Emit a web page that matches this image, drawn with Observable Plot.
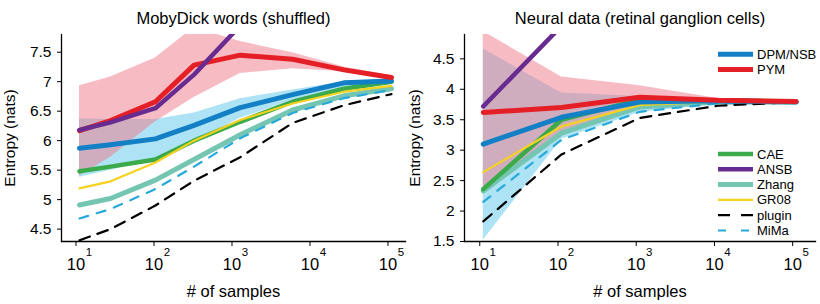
<!DOCTYPE html>
<html>
<head>
<meta charset="utf-8">
<script src="https://cdn.jsdelivr.net/npm/d3@7"></script>
<script src="https://cdn.jsdelivr.net/npm/@observablehq/plot@0.6"></script>
<style>
  body { margin: 0; background: #fff; }
  #wrap { position: relative; width: 820px; height: 304px; display: flex; font-family: "Liberation Sans", Arial, sans-serif; }
  #wrap > svg { display: block; }
  #legend { position: absolute; left: 0; top: 0; }
</style>
</head>
<body>
<div id="wrap"></div>
<script>
// ---- MobyDick words (shuffled) ----
const mobyN       = [10, 25, 94, 294, 1150, 5400, 24600, 100000];
const mobyDPM     = [5.87, 5.93, 6.03, 6.26, 6.56, 6.78, 6.98, 7.01];
const mobyDPMHi   = [6.37, 6.36, 6.36, 6.47, 6.71, 6.86, 7.00, 7.05];
const mobyDPMLo   = [5.38, 5.50, 5.68, 5.98, 6.38, 6.68, 6.90, 6.97];
const mobyPYM     = [6.17, 6.34, 6.66, 7.28, 7.45, 7.38, 7.20, 7.07];
const mobyPYMHi   = [6.93, 7.08, 7.40, 7.92, 7.68, 7.49, 7.25, 7.10];
const mobyPYMLo   = [5.40, 5.72, 6.32, 6.73, 7.14, 7.22, 7.17, 7.05];
const mobyCAE     = [5.48, 5.56, 5.68, 6.00, 6.32, 6.66, 6.88, 7.00];
const mobyANSB    = [6.18, 6.31, 6.55, 7.12, 7.95];
const mobyZhang   = [4.91, 5.02, 5.33, 5.68, 6.10, 6.52, 6.76, 6.88];
const mobyGR08    = [5.19, 5.31, 5.63, 6.00, 6.35, 6.63, 6.83, 6.93];
const mobyPlugin  = [4.31, 4.50, 4.90, 5.32, 5.72, 6.30, 6.60, 6.79];
const mobyMiMa    = [4.68, 4.84, 5.18, 5.56, 6.04, 6.47, 6.72, 6.86];

// ---- Neural data (retinal ganglion cells) ----
const neuralN      = [10, 100, 1000, 10000, 100000];
const neuralDPM    = [3.10, 3.54, 3.79, 3.81, 3.79];
const neuralDPMHi  = [4.66, 3.94, 3.88, 3.82, 3.80];
const neuralDPMLo  = [1.52, 3.18, 3.62, 3.76, 3.77];
const neuralPYM    = [3.62, 3.70, 3.87, 3.82, 3.80];
const neuralPYMHi  = [4.95, 4.20, 4.06, 3.85, 3.82];
const neuralPYMLo  = [2.35, 3.30, 3.72, 3.79, 3.79];
const neuralCAE    = [2.36, 3.50, 3.83, 3.82, 3.80];
const neuralANSB   = [3.72, 5.04];
const neuralZhang  = [2.33, 3.28, 3.71, 3.79, 3.79];
const neuralGR08   = [2.64, 3.39, 3.74, 3.80, 3.80];
const neuralPlugin = [1.83, 2.93, 3.53, 3.73, 3.79];
const neuralMiMa   = [2.15, 3.17, 3.63, 3.77, 3.78];

// ---- axes ----
const xTicks       = [10, 100, 1000, 10000, 100000];
const mobyYTicks   = [4.5, 5, 5.5, 6, 6.5, 7, 7.5];
const neuralYTicks = [1.5, 2, 2.5, 3, 3.5, 4, 4.5];

// ---- legend ----
const legendUpper = ["DPM/NSB", "PYM"];
const legendLower = ["CAE", "ANSB", "Zhang", "GR08", "plugin", "MiMa"];

// line styles per estimator
const styles = {
  "DPM/NSB": {stroke: "#1380c6", strokeWidth: 5},
  "PYM":     {stroke: "#e41f26", strokeWidth: 5},
  "CAE":     {stroke: "#3aaa4a", strokeWidth: 4.5},
  "ANSB":    {stroke: "#682c90", strokeWidth: 4.5},
  "Zhang":   {stroke: "#74c5b1", strokeWidth: 5},
  "GR08":    {stroke: "#f5d120", strokeWidth: 2.2},
  "plugin":  {stroke: "#000000", strokeWidth: 2.2, strokeDasharray: "11,8"},
  "MiMa":    {stroke: "#28a9db", strokeWidth: 2.2, strokeDasharray: "9,9"}
};
const bandFill = {"DPM/NSB": "#5ec8ec", "PYM": "#f0788a"};
const FONT = "Liberation Sans, Arial, sans-serif";

const rows = (xs, ys) => ys.map((v, i) => ({n: xs[i], v}));
const bandRows = (xs, lo, hi) => xs.map((n, i) => ({n, lo: lo[i], hi: hi[i]}));

function panel({title, xs, series, bands, yDomain, yTicks, xDomain, marginLeft, labelOffsetY}) {
  const band = (name) => Plot.areaY(bandRows(xs, bands[name][0], bands[name][1]), {
    x: "n", y1: "lo", y2: "hi", fill: bandFill[name], fillOpacity: 0.5, clip: true
  });
  const order = ["Zhang", "CAE", "GR08", "MiMa", "plugin", "DPM/NSB", "PYM", "ANSB"];
  return Plot.plot({
    width: 410, height: 304,
    marginTop: 34, marginBottom: 63, marginLeft, marginRight: 5,
    style: {fontFamily: FONT, color: "#000", background: "#fff", overflow: "visible"},
    x: {type: "log", domain: xDomain},
    y: {domain: yDomain},
    marks: [
      band("DPM/NSB"),
      band("PYM"),
      ...order.map(name => Plot.line(rows(xs, series[name]), {
        x: "n", y: "v", ...styles[name], strokeLinejoin: "round", clip: true
      })),
      Plot.frame({anchor: "left", stroke: "#000", strokeWidth: 1.3}),
      Plot.frame({anchor: "bottom", stroke: "#000", strokeWidth: 1.3}),
      Plot.axisY(yTicks, {
        tickSize: 4, tickPadding: 6, tickFormat: d => String(d), fontSize: 15.5,
        label: "Entropy (nats)", labelAnchor: "center", labelArrow: "none", labelOffset: labelOffsetY
      }),
      Plot.axisX(xTicks, {
        tickSize: 5, tickPadding: 12, tickFormat: () => "10", dx: -3.5, fontSize: 16.5,
        label: "# of samples", labelAnchor: "center", labelArrow: "none", labelOffset: 55
      }),
      Plot.axisX(xTicks, {
        tickSize: 0, tickPadding: 0, tickFormat: d => String(Math.round(Math.log10(d))),
        dx: 9.5, dy: 6, fontSize: 11.5, label: null
      }),
      Plot.text([title], {frameAnchor: "top", dy: -22, fontSize: 16.5, fill: "#000"})
    ]
  });
}

const wrap = document.getElementById("wrap");

wrap.append(panel({
  title: "MobyDick words (shuffled)",
  xs: mobyN,
  series: {"DPM/NSB": mobyDPM, "PYM": mobyPYM, "CAE": mobyCAE, "ANSB": mobyANSB,
           "Zhang": mobyZhang, "GR08": mobyGR08, "plugin": mobyPlugin, "MiMa": mobyMiMa},
  bands: {"DPM/NSB": [mobyDPMLo, mobyDPMHi], "PYM": [mobyPYMLo, mobyPYMHi]},
  yDomain: [4.29, 7.8], yTicks: mobyYTicks,
  xDomain: [10 ** 0.769, 10 ** 5.18], marginLeft: 61, labelOffsetY: 58
}));

wrap.append(panel({
  title: "Neural data (retinal ganglion cells)",
  xs: neuralN,
  series: {"DPM/NSB": neuralDPM, "PYM": neuralPYM, "CAE": neuralCAE, "ANSB": neuralANSB,
           "Zhang": neuralZhang, "GR08": neuralGR08, "plugin": neuralPlugin, "MiMa": neuralMiMa},
  bands: {"DPM/NSB": [neuralDPMLo, neuralDPMHi], "PYM": [neuralPYMLo, neuralPYMHi]},
  yDomain: [1.5, 4.9], yTicks: neuralYTicks,
  xDomain: [10 ** 0.76, 10 ** 5.247], marginLeft: 54, labelOffsetY: 56
}));

// legend drawn over the right panel
const legend = d3.select(wrap).append("svg")
  .attr("id", "legend").attr("width", 820).attr("height", 304)
  .style("font-family", FONT).style("font-size", "13px");
const step = 15.3;
const items = [
  ...legendUpper.map((name, i) => ({name, y: 54.3 + i * step})),
  ...legendLower.map((name, i) => ({name, y: 154 + i * step}))
];
const g = legend.selectAll("g").data(items).join("g")
  .attr("transform", d => `translate(718,${d.y})`);
g.append("line")
  .attr("x1", 0).attr("x2", 35)
  .attr("stroke", d => styles[d.name].stroke)
  .attr("stroke-width", d => styles[d.name].strokeWidth)
  .attr("stroke-dasharray", d => d.name === "plugin" ? "12,11" : d.name === "MiMa" ? "8,15" : null);
g.append("text")
  .attr("x", 39).attr("dy", "0.35em")
  .text(d => d.name);
</script>
</body>
</html>
